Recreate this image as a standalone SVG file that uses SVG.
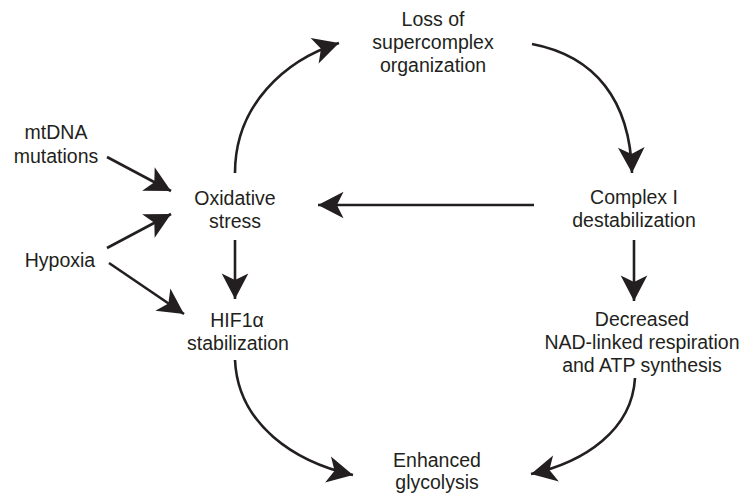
<svg xmlns="http://www.w3.org/2000/svg" width="744" height="495" viewBox="0 0 744 495">
<defs>
<style>
text{font-family:"Liberation Sans",Arial,Helvetica,sans-serif;font-size:19.5px;fill:#231f20;text-anchor:middle}
.c{fill:none;stroke:#231f20;stroke-width:2.6}
</style>
<marker id="ah" markerUnits="userSpaceOnUse" markerWidth="30" markerHeight="30" viewBox="-25 -13 27 26" refX="0" refY="0" orient="auto">
<path d="M0,0 L-23,-12 L-17,0 L-23,12 Z" fill="#231f20"/>
</marker>
</defs>
<rect width="744" height="495" fill="#fff"/>
<g id="loss"><text x="433" y="26">Loss of</text><text x="433" y="49">supercomplex</text><text x="433" y="72">organization</text></g>
<g id="mtdna"><text x="56" y="139">mtDNA</text><text x="56" y="163">mutations</text></g>
<g id="oxidative"><text x="235" y="205">Oxidative</text><text x="235" y="228">stress</text></g>
<g id="complex1"><text x="634" y="204">Complex I</text><text x="634" y="227">destabilization</text></g>
<g id="hypoxia"><text x="60" y="267">Hypoxia</text></g>
<g id="hif"><text x="237" y="327">HIF1α</text><text x="238" y="350">stabilization</text></g>
<g id="decreased"><text x="642" y="326">Decreased</text><text x="642" y="349">NAD-linked respiration</text><text x="642" y="372">and ATP synthesis</text></g>
<g id="glycolysis"><text x="437" y="467">Enhanced</text><text x="437" y="489">glycolysis</text></g>
<g id="connectors">
<path class="c" marker-end="url(#ah)" d="M235,173 C235,105 285,60 339,43"/>
<path class="c" marker-end="url(#ah)" d="M532,44 C595,56 630,100 632,173"/>
<path class="c" marker-end="url(#ah)" d="M534,205 L318,205"/>
<path class="c" marker-end="url(#ah)" d="M634,240 L634,301"/>
<path class="c" marker-end="url(#ah)" d="M235,240 L235,299"/>
<path class="c" marker-end="url(#ah)" d="M107,157 L171,191"/>
<path class="c" marker-end="url(#ah)" d="M107,248 L171,214"/>
<path class="c" marker-end="url(#ah)" d="M109,263 L184,314"/>
<path class="c" marker-end="url(#ah)" d="M235,360 C238,425 295,462 353,475"/>
<path class="c" marker-end="url(#ah)" d="M635,378 C632,430 585,462 531,474"/>
</g>
</svg>
